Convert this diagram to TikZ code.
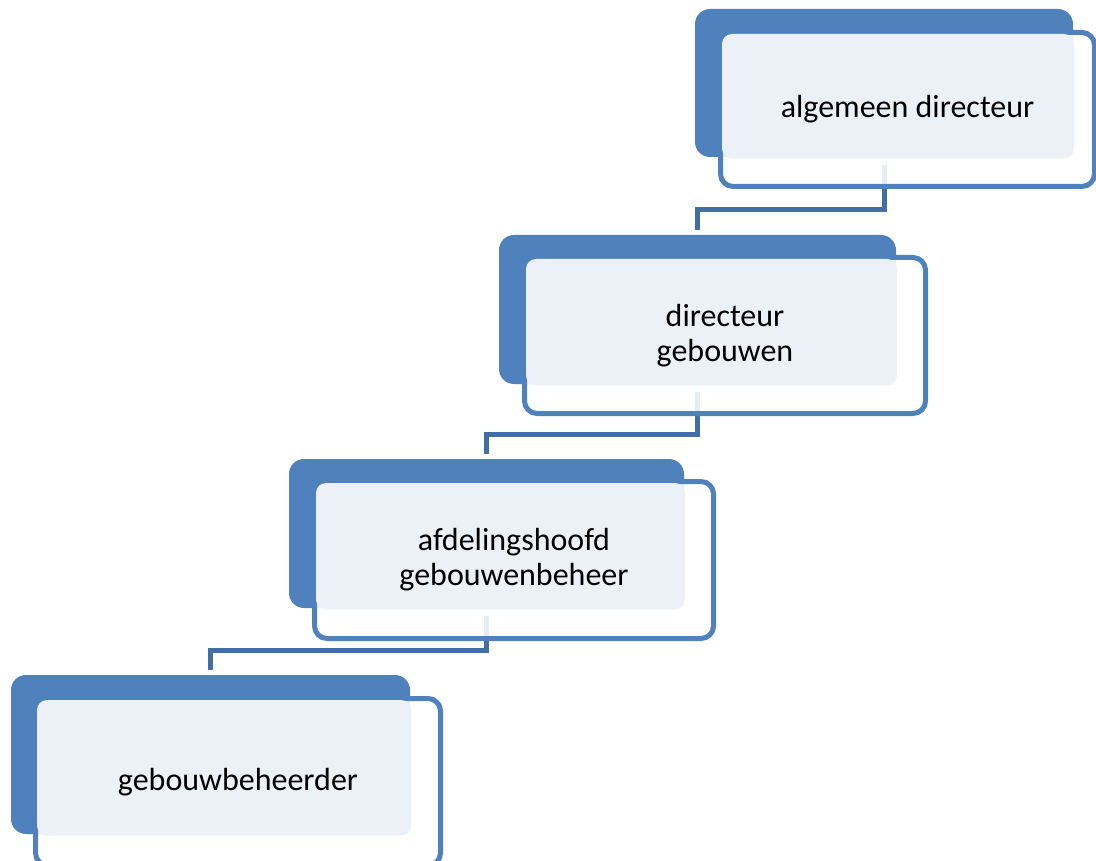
\documentclass[tikz,border=0pt]{standalone}
\usepackage{fontspec}
\setmainfont{Carlito}
\usetikzlibrary{calc}
\definecolor{boxblue}{RGB}{79,129,189}
\definecolor{linkblue}{RGB}{65,110,165}
\definecolor{paleblue}{RGB}{236,241,248}
\pgfdeclarelayer{bg}
\pgfsetlayers{bg,main}
\begin{document}
\begin{tikzpicture}[x=1pt,y=-1pt,
  backbox/.style={fill=boxblue, rounded corners=15pt, inner sep=0pt, outer sep=0pt},
  frontbox/.style={draw=boxblue, line width=5pt, fill=white, fill opacity=0.88, rounded corners=12.5pt, inner sep=0pt, outer sep=0pt},
  lightfill/.style={fill=paleblue, rounded corners=10pt},
  label/.style={align=center, text=black, inner sep=0pt, font=\fontsize{32}{35}\selectfont},
  link/.style={draw=linkblue, line width=5pt}]
\useasboundingbox (0,0) rectangle (1096,861);

% level 1
\node[backbox, minimum width=378pt, minimum height=148pt] (d1) at (884,83) {};
\node[frontbox, minimum width=374pt, minimum height=154pt] (o1) at (907.5,109.5) {};
\fill[lightfill] ($(o1.north west)+(1.5pt,-1.5pt)$) rectangle ($(d1.south east)+(1pt,-1.5pt)$);
\node[label] (t1) at (o1.center) {algemeen directeur};

% level 2
\node[backbox, minimum width=397pt, minimum height=149pt] (d2) at (697.5,309.5) {};
\node[frontbox, minimum width=401pt, minimum height=156pt] (o2) at (725,335.5) {};
\fill[lightfill] ($(o2.north west)+(1.5pt,-1.5pt)$) rectangle ($(d2.south east)+(1pt,-1.5pt)$);
\node[label] (t2) at (o2.center) {directeur\\gebouwen};

% level 3
\node[backbox, minimum width=395pt, minimum height=149pt] (d3) at (486.5,533.5) {};
\node[frontbox, minimum width=399pt, minimum height=157pt] (o3) at (514,560) {};
\fill[lightfill] ($(o3.north west)+(1.5pt,-1.5pt)$) rectangle ($(d3.south east)+(1pt,-1.5pt)$);
\node[label] (t3) at (o3.center) {afdelingshoofd\\gebouwenbeheer};

% level 4
\node[backbox, minimum width=399pt, minimum height=159pt] (d4) at (210.5,754.5) {};
\node[frontbox, minimum width=405pt, minimum height=167pt] (o4) at (238,782) {};
\fill[lightfill] ($(o4.north west)+(1.5pt,-1.5pt)$) rectangle ($(d4.south east)+(1pt,-1.5pt)$);
\node[label] (t4) at (o4.center) {gebouwbeheerder};

% connectors
\begin{pgfonlayer}{bg}
\draw[link] ($(d1.south)+(0pt,-8pt)$) |- ($(d2.north)+(0pt,25.5pt)$) -- ($(d2.north)+(0pt,5pt)$);
\draw[link] ($(d2.south)+(0pt,-8pt)$) |- ($(d3.north)+(0pt,25pt)$) -- ($(d3.north)+(0pt,5pt)$);
\draw[link] ($(d3.south)+(0pt,-8pt)$) |- ($(d4.north)+(0pt,25pt)$) -- ($(d4.north)+(0pt,5pt)$);
\end{pgfonlayer}
\end{tikzpicture}
\end{document}
